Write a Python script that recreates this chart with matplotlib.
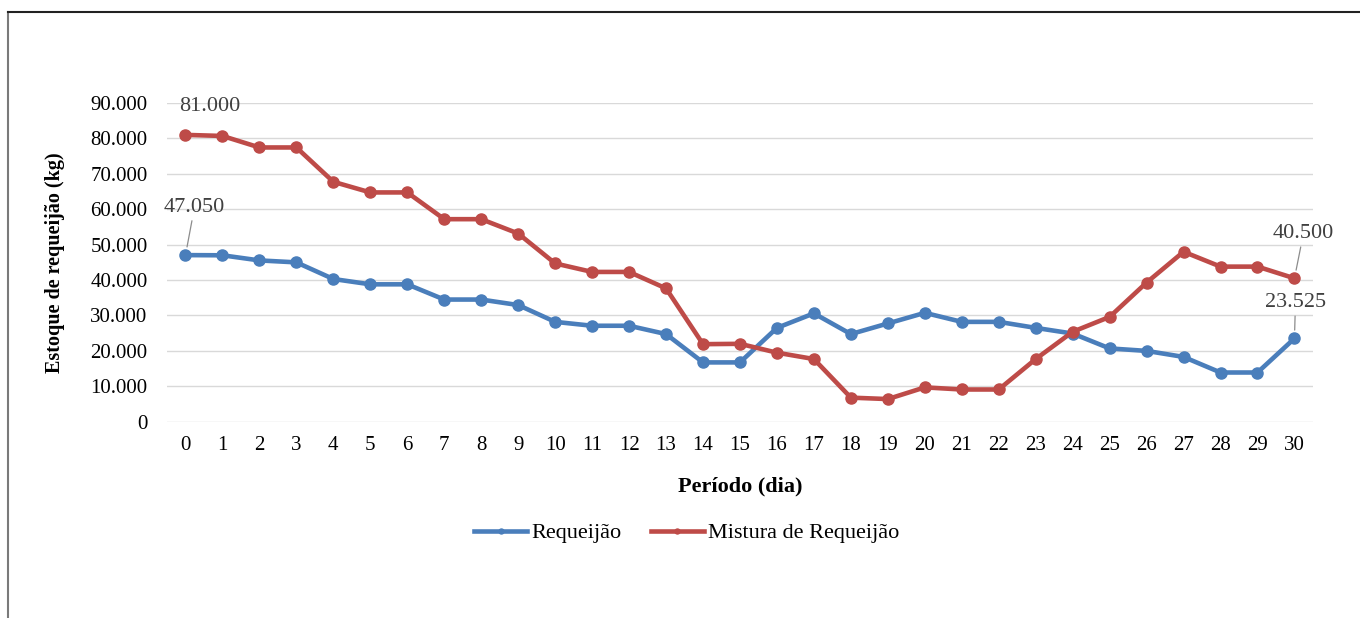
import matplotlib as mpl
import matplotlib.pyplot as plt
from matplotlib.lines import Line2D
from matplotlib.ticker import FuncFormatter, MultipleLocator

mpl.use('Agg')

plt.rcParams['font.family'] = ['Liberation Serif', 'DejaVu Serif']

dias = list(range(31))
requeijao = [47050, 47000, 45550, 45000, 40300, 38800, 38800, 34500, 34500, 32950,
             28200, 27100, 27100, 24750, 16750, 16750, 26500, 30600, 24750, 27750,
             30750, 28200, 28200, 26500, 24900, 20700, 20000, 18300, 13900, 13900,
             23525]
mistura = [81000, 80700, 77450, 77450, 67750, 64750, 64750, 57200, 57200, 53150,
           44700, 42300, 42300, 37650, 21900, 22000, 19500, 17700, 6800, 6400,
           9700, 9100, 9100, 17700, 25400, 29600, 39300, 48000, 43800, 43800,
           40500]

azul = '#4A7EBB'
vermelho = '#BE4B48'


def milhar(v, pos):
    return f'{int(v):,}'.replace(',', '.')


fig = plt.figure(figsize=(13.6, 6.18), dpi=100)
ax = fig.add_axes([0.1228, 0.3176, 0.8426, 0.5157])

ax.plot(dias, requeijao, color=azul, lw=3.3, marker='o', ms=8, label='Requeijão')
ax.plot(dias, mistura, color=vermelho, lw=3.3, marker='o', ms=8, label='Mistura de Requeijão')

ax.set_xlim(-0.5, 30.5)
ax.set_ylim(0, 90000)
ax.yaxis.set_major_locator(MultipleLocator(10000))
ax.yaxis.set_major_formatter(FuncFormatter(milhar))
ax.set_xticks(dias)
ax.grid(axis='y', color='#d9d9d9', lw=1)
ax.set_axisbelow(True)
for s in ax.spines.values():
    s.set_visible(False)
ax.tick_params(length=0, labelsize=15, pad=10)
ax.tick_params(axis='y', pad=14)

ax.set_xlabel('Período (dia)', fontsize=16, fontweight='bold', labelpad=16)
ax.set_ylabel('Estoque de requeijão (kg)', fontsize=14.5, fontweight='bold', labelpad=18)

# rótulos de dados nas pontas das séries
rotulo = dict(fontsize=16, color='#404040', ha='center', va='center',
              textcoords='offset pixels')
seta = dict(arrowstyle='-', color='#8c8c8c', lw=0.9, shrinkA=1, shrinkB=6)
ax.annotate(milhar(mistura[0], None), (dias[0], mistura[0]), xytext=(24, 28), **rotulo)
ax.annotate(milhar(requeijao[0], None), (dias[0], requeijao[0]), xytext=(9, 48),
            arrowprops=seta, **rotulo)
ax.annotate(milhar(mistura[-1], None), (dias[-1], mistura[-1]), xytext=(9, 45),
            arrowprops=seta, **rotulo)
ax.annotate(milhar(requeijao[-1], None), (dias[-1], requeijao[-1]), xytext=(1, 36),
            arrowprops=seta, **rotulo)

fig.legend(loc='center', bbox_to_anchor=(0.505, 1 - 533 / 618), ncol=2, frameon=False,
           fontsize=16, handlelength=2.4, columnspacing=1.3, handletextpad=0.2,
           markerscale=0.45)

# moldura
fig.add_artist(Line2D([8 / 1360, 8 / 1360], [0, 1 - 12 / 618], color='#7a7a7a', lw=1.5,
                      transform=fig.transFigure))
fig.add_artist(Line2D([8 / 1360, 1], [1 - 12 / 618, 1 - 12 / 618], color='#222222', lw=1.5,
                      transform=fig.transFigure))

fig.savefig('out.png', dpi=100)
